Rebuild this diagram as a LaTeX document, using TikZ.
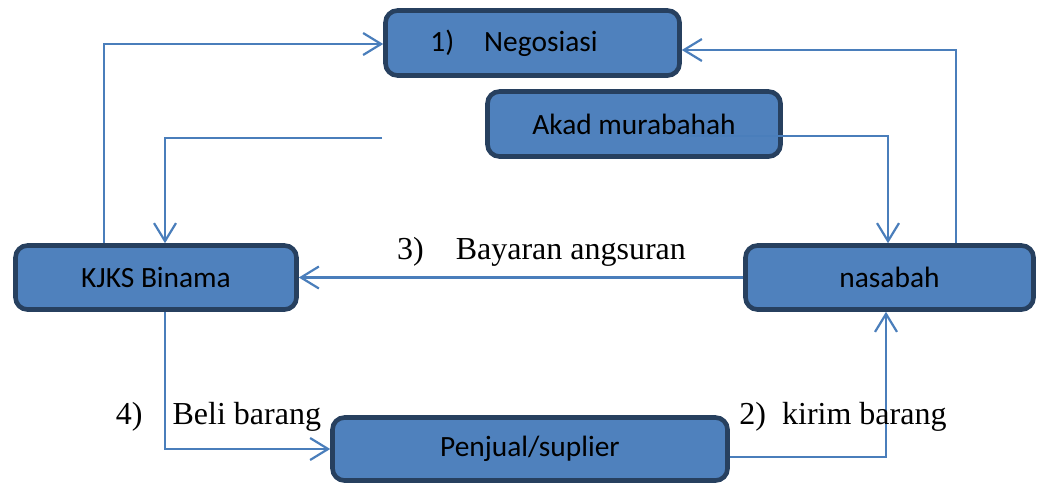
\documentclass[tikz,border=0pt]{standalone}
\usepackage{fontspec}
\setmainfont{Liberation Serif}
\newfontfamily\boxfont{Carlito}
\usetikzlibrary{arrows.meta}
\definecolor{boxfill}{HTML}{4F81BD}
\definecolor{boxline}{HTML}{27405F}
\definecolor{connline}{HTML}{4A7EBB}

\begin{document}
\begin{tikzpicture}[x=0.5pt,y=-0.5pt]
                \tikzstyle{blok}=[draw=boxline, fill=boxfill, line width=2.3pt, rounded corners=6pt, minimum height=32.5pt, inner sep=0pt, font=\boxfont\fontsize{14.7}{17}\selectfont]
                \tikzstyle{conn}=[draw=connline, line width=1.1pt, -{Straight Barb[length=9pt,width=11pt]}]
                \tikzstyle{ket}=[inner sep=0pt, font=\fontsize{16}{19}\selectfont]
                \useasboundingbox (0,0) rectangle (1037,483);
                \node [blok, minimum width=147pt] (nego) at (532.5,43) {1)\hspace{15pt}Negosiasi\hspace*{18.5pt}};
                \node [blok, minimum width=146.5pt] (akad) at (634,124) {Akad murabahah};
                \node [blok, minimum width=140.5pt, minimum height=32pt] (kjks) at (156,277.5) {KJKS Binama};
                \node [blok, minimum width=144pt, minimum height=32pt] (nasabah) at (889.5,277.5) {nasabah};
                \node [blok, minimum width=197.5pt, minimum height=31.5pt] (penjual) at (530,449) {Penjual/suplier};
                \coordinate (c1) at (104,44);
                \coordinate (c2) at (956,50);
                \coordinate (a1) at (382,138);
                \coordinate (a2) at (685,136);
                \coordinate (k1) at (165,0);
                \coordinate (n1) at (888,0);
                \coordinate (n2) at (886,457);
                \draw [conn] (c1 |- kjks.north) -- (c1) -- (c1 -| nego.west);
                \draw [conn] (c2 |- nasabah.north) -- (c2) -- (c2 -| nego.east);
                \draw [conn] (a1) -| (k1 |- kjks.north);
                \draw [conn] (a2) -| (n1 |- nasabah.north);
                \draw [conn] (nasabah.west) -- (kjks.east);
                \draw [conn] (k1 |- kjks.south) |- (penjual.west);
                \draw [conn] (n2 -| penjual.east) -- (n2) -- (n2 |- nasabah.south);
                \node [ket] (lbl3) at (541.5,252) {3)\hspace{16pt}Bayaran angsuran};
                \node [ket] (lbl4) at (218.5,417) {4)\hspace{15pt}Beli barang};
                \node [ket] (lbl2) at (843,417) {2)\hspace{8pt}kirim barang};
              \end{tikzpicture}
\end{document}
